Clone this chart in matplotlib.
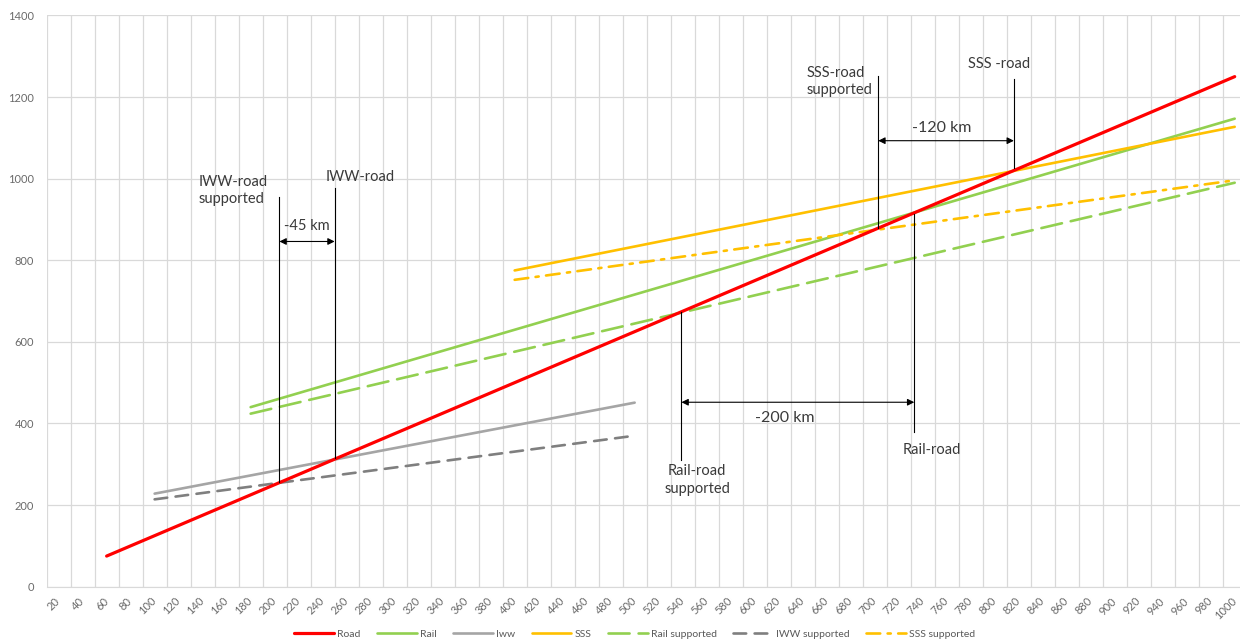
import matplotlib.pyplot as plt
import numpy as np

plt.rcParams['font.family'] = ['Lato', 'DejaVu Sans']

# distance categories on the x axis (km)
km_ticks = list(range(20, 1001, 20))

# each series is a straight line: first and last plotted point (km, cost)
road_km, road_val = [60, 1000], [75, 1250]
rail_km, rail_val = [180, 1000], [440, 1147]
iww_km, iww_val = [100, 500], [228, 451]
sss_km, sss_val = [400, 1000], [775, 1127]
rail_sup_km, rail_sup_val = [180, 1000], [424, 990]
iww_sup_km, iww_sup_val = [100, 500], [214, 370]
sss_sup_km, sss_sup_val = [400, 1000], [752, 996]

# break-even markers: (x km, y bottom, y top)
markers = {
    'IWW-road supported': (204, 256, 956),
    'IWW-road': (250, 315, 978),
    'SSS-road supported': (703, 878, 1252),
    'SSS -road': (816, 1025, 1245),
    'Rail-road': (733, 379, 914),
    'Rail-road supported': (539, 310, 672),
}
spans = [  # (x from, x to, y, label)
    (204, 250, 846, '-45 km'),
    (703, 816, 1093, '-120 km'),
    (539, 733, 452, '-200 km'),
]

fig = plt.figure(figsize=(12.4, 6.43), dpi=100)
ax = fig.add_axes([0.0376, 0.0876, 0.9678, 0.8884])

ax.plot(road_km, road_val, color='#FF0000', lw=2.3, label='Road', solid_capstyle='round', zorder=5)
ax.plot(rail_km, rail_val, color='#92D050', lw=1.9, label='Rail', solid_capstyle='round')
ax.plot(iww_km, iww_val, color='#A5A5A5', lw=1.9, label='Iww', solid_capstyle='round')
ax.plot(sss_km, sss_val, color='#FFC000', lw=1.9, label='SSS', solid_capstyle='round')
ax.plot(rail_sup_km, rail_sup_val, color='#92D050', lw=1.9, dashes=(8, 3.4),
        label='Rail supported', dash_capstyle='round')
ax.plot(iww_sup_km, iww_sup_val, color='#7F7F7F', lw=1.9, dashes=(4.8, 3.2),
        label='IWW supported', dash_capstyle='round')
ax.plot(sss_sup_km, sss_sup_val, color='#FFC000', lw=1.9, dashes=(5.2, 2.8, 1.2, 2.8),
        label='SSS supported', dash_capstyle='round')

# vertical marker lines
for name, (x, y0, y1) in markers.items():
    ax.plot([x, x], [y0, y1], color='black', lw=0.8, zorder=6)

# double arrows between break-even points
for x0, x1, y, txt in spans:
    ax.annotate('', xy=(x0, y), xytext=(x1, y),
                arrowprops=dict(arrowstyle='<|-|>', color='black', lw=0.8,
                                mutation_scale=10, shrinkA=0, shrinkB=0), zorder=6)

txt_kw = dict(fontsize=10.5, color='#3A3A3A', zorder=7)
ax.text(137, 1010, 'IWW-road\nsupported', ha='left', va='top', linespacing=1.3, **txt_kw)
ax.text(271, 1005, 'IWW-road', ha='center', va='center', **txt_kw)
ax.text(643, 1276, 'SSS-road\nsupported', ha='left', va='top', linespacing=1.3, **txt_kw)
ax.text(804, 1282, 'SSS -road', ha='center', va='center', **txt_kw)
ax.text(723, 335, 'Rail-road', ha='left', va='center', **txt_kw)
ax.text(552, 300, 'Rail-road\nsupported', ha='center', va='top', linespacing=1.3, **txt_kw)
ax.text(227, 883, '-45 km', ha='center', va='center', **txt_kw)
ax.text(756, 1123, '-120 km', ha='center', va='center', fontsize=11.5, color='#3A3A3A')
ax.text(625, 413, '-200 km', ha='center', va='center', fontsize=11.5, color='#3A3A3A')

# axes, ticks and grid
ax.set_xlim(10, 1010)
ax.set_ylim(0, 1400)
ax.set_xticks(km_ticks)
ax.set_xticklabels([str(k) for k in km_ticks], rotation=45, ha='right', va='center',
                   rotation_mode='anchor', fontsize=8, color='#6A6A6A')
ax.set_xticks(np.arange(10, 1011, 20), minor=True)
ax.set_yticks(range(0, 1401, 200))
ax.tick_params(axis='y', labelsize=8, labelcolor='#6A6A6A', length=0, pad=9)
ax.tick_params(axis='x', which='both', length=0, pad=9)
ax.grid(True, axis='y', color='#D9D9D9', lw=0.9)
ax.grid(True, axis='x', which='minor', color='#D9D9D9', lw=0.9)
ax.grid(False, axis='x', which='major')
ax.set_axisbelow(True)
for s in ['top', 'right', 'left']:
    ax.spines[s].set_visible(False)
ax.spines['bottom'].set_color('#D9D9D9')

fig.legend(loc='lower center', bbox_to_anchor=(0.512, -0.008), ncol=7, frameon=False,
           fontsize=7.5, labelcolor='#595959', handlelength=3.8, columnspacing=1.6,
           handletextpad=0.3)

fig.savefig('out.png', dpi=100)
